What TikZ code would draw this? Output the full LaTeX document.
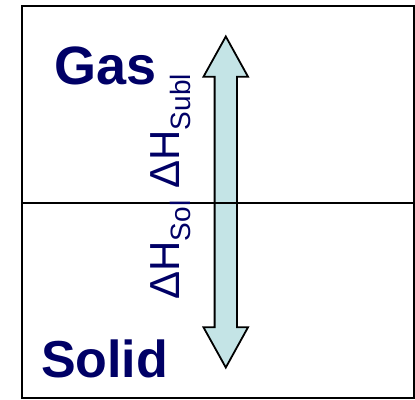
\documentclass[tikz,border=0pt]{standalone}
\usepackage{fontspec}
\setmainfont{Liberation Sans}
\definecolor{navy}{RGB}{0,0,102}
\definecolor{arrowfill}{RGB}{196,228,230}
\begin{document}
\begin{tikzpicture}[x=1pt,y=-1pt,
  phase/.style={inner sep=0pt, outer sep=0pt, text=navy, anchor=base west,
    font=\bfseries\fontsize{54}{54}\selectfont},
  enth/.style={inner sep=0pt, outer sep=0pt, text=navy, anchor=base west, rotate=90,
    font=\fontsize{42}{42}\selectfont},
  frame/.style={line width=2pt},
  bigarrow/.style={line width=1.8pt, fill=arrowfill, line join=miter}]
\useasboundingbox (0,0) rectangle (415,399);
\draw[frame] (21.8,5.5) rectangle (414,398);
\draw[bigarrow] (225.8,36.5) -- (248,76.7) -- (237,76.7) -- (237,327.3) -- (248,327.3)
  -- (225.8,367.5) -- (203.5,327.3) -- (214.6,327.3) -- (214.6,76.7) -- (203.5,76.7) -- cycle;
\coordinate (ml) at (21.8,202.5);
\coordinate (mr) at (414,202.5);
\draw[frame] (ml) -- (mr);
\node[phase] (gas) at (54,84) {Gas};
\node[phase, font=\bfseries\fontsize{52}{52}\selectfont] (solid) at (41,377) {Solid};
\node[enth] (subl) at (179.5,188.5) {ΔH\raisebox{-10.5pt}{\fontsize{28}{28}\selectfont Subl}};
\node[enth] (sol) at (179.5,299.5) {ΔH\raisebox{-10.5pt}{\fontsize{28}{28}\selectfont Sol}};
\end{tikzpicture}
\end{document}
